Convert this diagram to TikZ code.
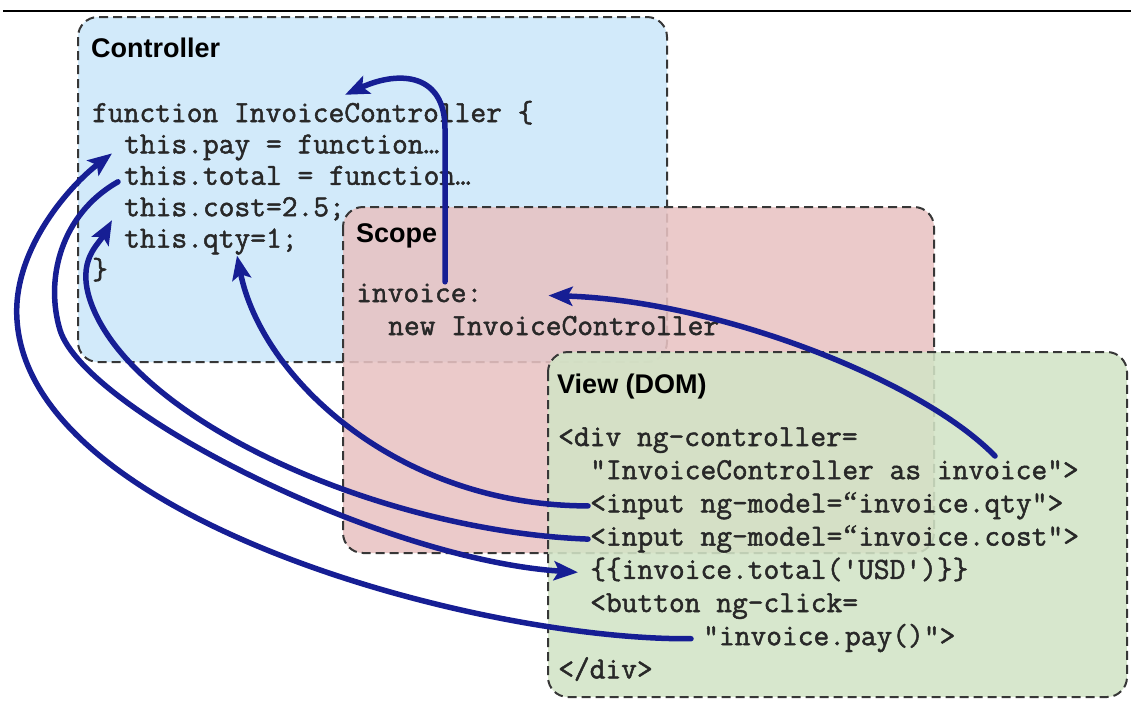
\documentclass[tikz,border=0pt]{standalone}
\usepackage{fontspec}
\setmainfont{Liberation Sans}
\newfontfamily\codefont[FakeBold=1.6]{Latin Modern Mono}
\newfontfamily\quotefont[FakeBold=1.2]{Liberation Serif}
\newcommand{\openq}{\makebox[0.525em]{\quotefont “}}
\usetikzlibrary{arrows.meta,positioning}

\definecolor{ctlblue}{RGB}{204,231,249}
\definecolor{scopepink}{RGB}{232,195,195}
\definecolor{viewgreen}{RGB}{210,228,198}
\definecolor{linkblue}{RGB}{22,30,148}
\definecolor{framegray}{RGB}{55,55,55}
\definecolor{codegray}{RGB}{40,40,40}

\tikzset{
  panel/.style={draw=framegray, line width=2pt, dash pattern=on 9pt off 5pt, rounded corners=20pt, fill opacity=0.88},
  paneltitle/.style={anchor=base west, inner sep=0pt, font=\fontsize{27}{30}\selectfont\bfseries},
  code/.style={anchor=base west, inner sep=0pt, text height=20pt, text depth=7pt, text=codegray, font=\fontsize{30.6}{34}\selectfont\codefont},
  link/.style={draw=linkblue, line width=5.5pt, line cap=round, -{Stealth[length=24pt,width=19pt,inset=5pt]}},
}

\begin{document}
\begin{tikzpicture}[x=1pt, y=-1pt]
\useasboundingbox (0,0) rectangle (1131,713);
\draw[line width=2pt] (3,11) -- (1131,11);

% Controller
\draw[panel, fill=ctlblue] (78,17) rectangle (667,362);
\node[paneltitle] (ctl-title) at (91,57) {Controller};
\node[code] (ctl-fn) at (92,122) {function InvoiceController \{};
\node[code] (ctl-pay) at ([xshift=32pt,yshift=-31.4pt]ctl-fn.base west) {this.pay = function…};
\node[code] (ctl-total) at ([yshift=-31.4pt]ctl-pay.base west) {this.total = function…};
\node[code] (ctl-cost) at ([yshift=-31.4pt]ctl-total.base west) {this.cost=2.5;};
\node[code] (ctl-qty) at ([yshift=-31.4pt]ctl-cost.base west) {this.qty=1;};
\node[code] (ctl-close) at ([xshift=-32pt,yshift=-31.4pt]ctl-qty.base west) {\}};

% Scope
\draw[panel, fill=scopepink] (343,207) rectangle (934,553);
\node[paneltitle] (sc-title) at (356,242) {Scope};
\node[code] (sc-inv) at (356,302) {invoice:};
\node[code] (sc-new) at ([xshift=32pt,yshift=-33pt]sc-inv.base west) {new InvoiceController};

% View (DOM)
\draw[panel, fill=viewgreen] (548,352) rectangle (1127,697);
\node[paneltitle] (vw-title) at (557,393) {View (DOM)};
\node[code] (vw-div) at (558,446) {<div ng-controller=};
\node[code] (vw-as) at ([xshift=32pt,yshift=-33.2pt]vw-div.base west) {"InvoiceController as invoice">};
\node[code] (vw-qty) at ([yshift=-33.2pt]vw-as.base west) {<input ng-model=\openq invoice.qty">};
\node[code] (vw-cost) at ([yshift=-33.2pt]vw-qty.base west) {<input ng-model=\openq invoice.cost">};
\node[code] (vw-total) at ([yshift=-33.2pt]vw-cost.base west) {\{\{invoice.total('USD')\}\}};
\node[code] (vw-btn) at ([yshift=-33.2pt]vw-total.base west) {<button ng-click=};
\node[code] (vw-pay) at ([xshift=113pt,yshift=-33.2pt]vw-btn.base west) {"invoice.pay()">};
\node[code] (vw-close) at ([xshift=-145pt,yshift=-33.2pt]vw-pay.base west) {</div>};

% bindings
\draw[link] ([xshift=89pt]sc-inv.north west) -- ++(0,-153)
  .. controls +(0,-55) and +(55,-25) .. ([xshift=253pt,yshift=7pt]ctl-fn.north west);
\draw[link] ([xshift=405pt,yshift=3pt]vw-as.north west)
  .. controls +(-75,-77) and +(167,5) .. ([xshift=66pt]sc-inv.east);
\draw[link] ([xshift=-2pt]vw-qty.west)
  .. controls +(-188,0) and +(25,124) .. ([xshift=113pt,yshift=-8pt]ctl-qty.base west);
\draw[link] ([xshift=-2pt]vw-cost.west)
  .. controls +(-208,-8) and +(40,120) .. (90,300)
  .. controls +(-13,-40) and +(-14,25) .. ([xshift=-12pt,yshift=-4pt]ctl-cost.base west);
\draw[link] ([xshift=-6pt,yshift=3pt]ctl-total.base west)
  .. controls +(-58,33) and +(-15,-50) .. (60,330)
  .. controls +(25,80) and +(-198,-13) .. ([xshift=-12pt]vw-total.west);
\draw[link] ([xshift=-12pt]vw-pay.west)
  .. controls +(-211,2) and +(13,200) .. (17,320)
  .. controls +(-5,-70) and +(-42,32) .. ([xshift=-12pt]ctl-pay.base west);
\end{tikzpicture}
\end{document}
